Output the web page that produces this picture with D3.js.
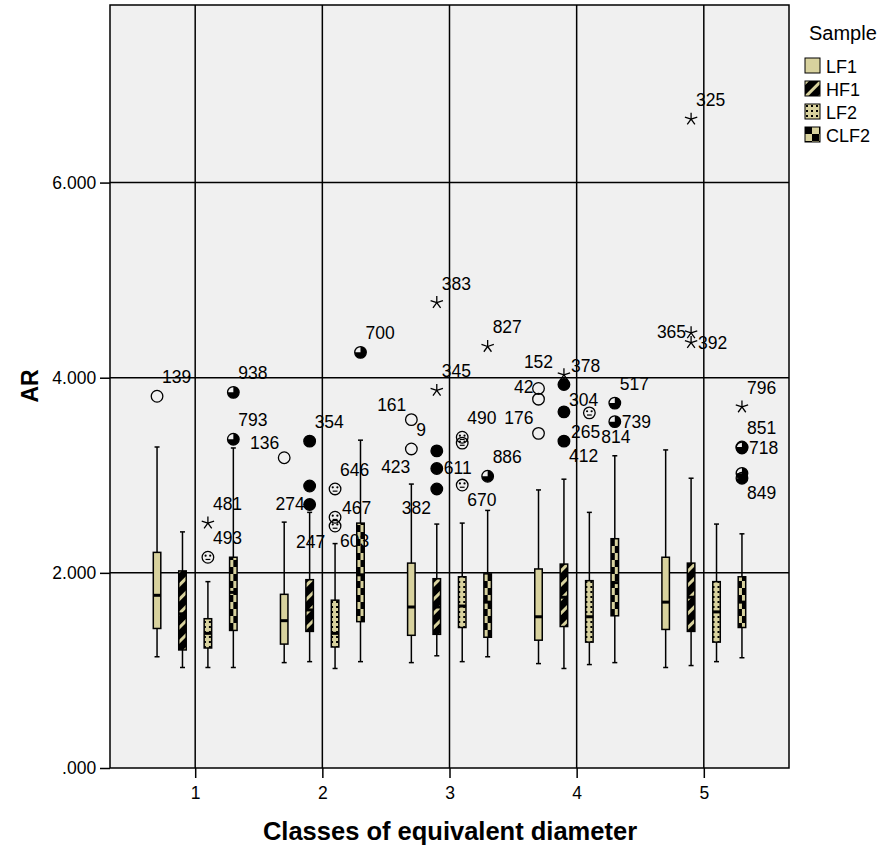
<!DOCTYPE html>
<html>
<head>
<meta charset="utf-8">
<script src="https://cdn.jsdelivr.net/npm/d3@7"></script>
<style>
  body { margin: 0; background: #fff; }
  text { font-family: "Liberation Sans", Arial, sans-serif; }
</style>
</head>
<body>
<script>
// categories
const classes = [1, 2, 3, 4, 5];
const samples = ["LF1", "HF1", "LF2", "CLF2"];
const yTicks = [0, 2, 4, 6];

// box stats per class: [min, q1, median, q3, max]
const lf1Stats = [
  [1.14, 1.43, 1.77, 2.21, 3.29],
  [1.08, 1.27, 1.51, 1.78, 2.52],
  [1.08, 1.36, 1.65, 2.10, 2.91],
  [1.07, 1.31, 1.55, 2.04, 2.85],
  [1.03, 1.42, 1.70, 2.16, 3.26]
];
const hf1Stats = [
  [1.03, 1.21, 1.58, 2.02, 2.42],
  [1.09, 1.40, 1.62, 1.93, 2.62],
  [1.15, 1.37, 1.65, 1.94, 2.50],
  [1.02, 1.45, 1.75, 2.09, 2.96],
  [1.05, 1.40, 1.75, 2.10, 2.97]
];
const lf2Stats = [
  [1.03, 1.23, 1.38, 1.53, 1.91],
  [1.02, 1.24, 1.38, 1.72, 2.30],
  [1.09, 1.44, 1.66, 1.96, 2.51],
  [1.06, 1.29, 1.55, 1.92, 2.62],
  [1.09, 1.29, 1.60, 1.91, 2.50]
];
const clf2Stats = [
  [1.03, 1.41, 1.80, 2.16, 3.28],
  [1.09, 1.50, 1.98, 2.51, 3.36],
  [1.14, 1.34, 1.70, 1.99, 2.64],
  [1.08, 1.56, 1.90, 2.35, 3.20],
  [1.13, 1.44, 1.70, 1.96, 2.40]
];

// outliers: [class, sample, value, kind]  ("o" = outlier, "*" = extreme)
const outliers = [
  [1, "LF1", 3.81, "o"], [1, "LF2", 2.51, "*"], [1, "LF2", 2.16, "o"],
  [1, "CLF2", 3.85, "o"], [1, "CLF2", 3.37, "o"],
  [2, "LF1", 3.18, "o"], [2, "HF1", 3.35, "o"], [2, "HF1", 2.89, "o"], [2, "HF1", 2.70, "o"],
  [2, "LF2", 2.86, "o"], [2, "LF2", 2.57, "o"], [2, "LF2", 2.48, "o"], [2, "CLF2", 4.26, "o"],
  [3, "LF1", 3.57, "o"], [3, "LF1", 3.27, "o"],
  [3, "HF1", 4.77, "*"], [3, "HF1", 3.87, "*"], [3, "HF1", 3.25, "o"], [3, "HF1", 3.07, "o"], [3, "HF1", 2.86, "o"],
  [3, "LF2", 3.39, "o"], [3, "LF2", 3.33, "o"], [3, "LF2", 2.90, "o"],
  [3, "CLF2", 4.32, "*"], [3, "CLF2", 2.99, "o"],
  [4, "LF1", 3.89, "o"], [4, "LF1", 3.78, "o"], [4, "LF1", 3.43, "o"],
  [4, "HF1", 4.03, "*"], [4, "HF1", 3.93, "o"], [4, "HF1", 3.65, "o"], [4, "HF1", 3.35, "o"],
  [4, "LF2", 3.64, "o"], [4, "CLF2", 3.74, "o"], [4, "CLF2", 3.55, "o"],
  [5, "HF1", 6.65, "*"], [5, "HF1", 4.46, "*"], [5, "HF1", 4.36, "*"],
  [5, "CLF2", 3.70, "*"], [5, "CLF2", 3.29, "o"], [5, "CLF2", 3.28, "o"],
  [5, "CLF2", 3.02, "o"], [5, "CLF2", 2.97, "o"]
];

// case labels: [id, class, sample, value, side]
const caseLabels = [
  ["139", 1, "LF1", 3.81, "ne"], ["481", 1, "LF2", 2.51, "ne"], ["493", 1, "LF2", 2.16, "ne"],
  ["938", 1, "CLF2", 3.85, "ne"], ["793", 1, "CLF2", 3.37, "ne"],
  ["136", 2, "LF1", 3.18, "nw"], ["354", 2, "HF1", 3.35, "ne"], ["274", 2, "HF1", 2.70, "w"],
  ["247", 2, "HF1", 2.70, "s"], ["646", 2, "LF2", 2.86, "ne"], ["467", 2, "LF2", 2.57, "en"],
  ["603", 2, "LF2", 2.48, "se"], ["700", 2, "CLF2", 4.26, "ne"],
  ["161", 3, "LF1", 3.57, "nw"], ["9", 3, "LF1", 3.27, "ne"], ["423", 3, "LF1", 3.27, "sw"],
  ["382", 3, "LF1", 3.27, "ss"], ["383", 3, "HF1", 4.77, "ne"], ["345", 3, "HF1", 3.87, "ne"],
  ["611", 3, "HF1", 3.07, "e"], ["490", 3, "LF2", 3.39, "ne"], ["670", 3, "LF2", 2.90, "se"],
  ["827", 3, "CLF2", 4.32, "ne"], ["886", 3, "CLF2", 2.99, "ne"],
  ["42", 4, "LF1", 3.89, "w"], ["152", 4, "LF1", 3.89, "n"], ["176", 4, "LF1", 3.43, "nw"],
  ["378", 4, "HF1", 4.03, "en"], ["304", 4, "HF1", 3.93, "se"], ["265", 4, "HF1", 3.35, "en"],
  ["412", 4, "HF1", 3.35, "se"], ["814", 4, "LF2", 3.64, "sf"],
  ["517", 4, "CLF2", 3.74, "ne"], ["739", 4, "CLF2", 3.55, "e"],
  ["325", 5, "HF1", 6.65, "ne"], ["365", 5, "HF1", 4.46, "w"], ["392", 5, "HF1", 4.36, "e"],
  ["796", 5, "CLF2", 3.70, "ne"], ["851", 5, "CLF2", 3.29, "ne"], ["718", 5, "CLF2", 3.28, "e"],
  ["849", 5, "CLF2", 2.97, "se"]
];

const stats = {LF1: lf1Stats, HF1: hf1Stats, LF2: lf2Stats, CLF2: clf2Stats};
const khaki = "#d8d29e";

const plot = {left: 110, top: 5, right: 789, bottom: 768};

const svg = d3.select("body").append("svg")
  .attr("width", 880)
  .attr("height", 849);

// fill patterns
const defs = svg.append("defs");
defs.append("pattern").attr("id", "p-LF1")
  .attr("patternUnits", "userSpaceOnUse").attr("width", 4).attr("height", 4)
  .append("rect").attr("width", 4).attr("height", 4).attr("fill", khaki);

const hf1 = defs.append("pattern").attr("id", "p-HF1")
  .attr("patternUnits", "userSpaceOnUse").attr("width", 10).attr("height", 10)
  .attr("patternTransform", "rotate(45)");
hf1.append("rect").attr("width", 10).attr("height", 10).attr("fill", "#000");
hf1.append("rect").attr("width", 3).attr("height", 10).attr("fill", khaki);

const lf2 = defs.append("pattern").attr("id", "p-LF2")
  .attr("patternUnits", "userSpaceOnUse").attr("width", 5).attr("height", 5);
lf2.append("rect").attr("width", 5).attr("height", 5).attr("fill", khaki);
lf2.append("rect").attr("x", 1).attr("y", 1).attr("width", 2).attr("height", 2).attr("fill", "#000");

const clf2 = defs.append("pattern").attr("id", "p-CLF2")
  .attr("patternUnits", "userSpaceOnUse").attr("width", 14).attr("height", 14);
clf2.append("rect").attr("width", 14).attr("height", 14).attr("fill", khaki);
clf2.append("rect").attr("width", 7).attr("height", 7).attr("fill", "#000");
clf2.append("rect").attr("x", 7).attr("y", 7).attr("width", 7).attr("height", 7).attr("fill", "#000");

// scales
const x = d3.scaleLinear().domain([0.33, 5.67]).range([plot.left, plot.right]);
const y = d3.scaleLinear().domain([0, 7.82]).range([plot.bottom, plot.top]);
const offset = d3.scalePoint().domain(samples).range([-0.3, 0.3]);
const px = (c, s) => x(c + offset(s));

svg.append("rect")
  .attr("x", plot.left).attr("y", plot.top)
  .attr("width", plot.right - plot.left).attr("height", plot.bottom - plot.top)
  .attr("fill", "#f0f0f0");

// grid
svg.append("g").selectAll("line")
  .data(yTicks.filter(d => d > 0))
  .join("line")
  .attr("x1", plot.left).attr("x2", plot.right)
  .attr("y1", d => y(d)).attr("y2", d => y(d))
  .attr("stroke", "#000").attr("stroke-width", 1.5);

svg.append("g").selectAll("line")
  .data(classes)
  .join("line")
  .attr("x1", d => x(d)).attr("x2", d => x(d))
  .attr("y1", plot.top).attr("y2", plot.bottom)
  .attr("stroke", "#000").attr("stroke-width", 1.5);

svg.append("rect")
  .attr("x", plot.left).attr("y", plot.top)
  .attr("width", plot.right - plot.left).attr("height", plot.bottom - plot.top)
  .attr("fill", "none").attr("stroke", "#000").attr("stroke-width", 1.5);

// axes
const fmt = d => d3.format(".3f")(d).replace(/^0/, "");
const yAxis = svg.append("g")
  .attr("transform", `translate(${plot.left},0)`)
  .call(d3.axisLeft(y).tickValues(yTicks).tickFormat(fmt).tickSize(10).tickSizeOuter(0));
const xAxis = svg.append("g")
  .attr("transform", `translate(0,${plot.bottom})`)
  .call(d3.axisBottom(x).tickValues(classes).tickFormat(d3.format("d")).tickSize(10).tickSizeOuter(0));
[yAxis, xAxis].forEach(a => {
  a.select(".domain").remove();
  a.selectAll(".tick line").attr("stroke", "#000").attr("stroke-width", 1.5);
  a.selectAll(".tick text").attr("font-size", 17.5).attr("fill", "#000")
   .attr("font-family", "Liberation Sans, Arial, sans-serif");
});
yAxis.selectAll(".tick text").attr("dx", "-0.05em");
xAxis.selectAll(".tick text").attr("dy", "1em");

svg.append("text")
  .attr("x", 450).attr("y", 840)
  .attr("text-anchor", "middle")
  .attr("font-size", 25.5).attr("font-weight", "bold")
  .text("Classes of equivalent diameter");

svg.append("text")
  .attr("transform", "translate(38,386) rotate(-90)")
  .attr("text-anchor", "middle")
  .attr("font-size", 23).attr("font-weight", "bold")
  .text("AR");

// boxes
const boxW = 7.5;
const boxes = [];
samples.forEach(s => classes.forEach((c, i) => {
  const [min, q1, med, q3, max] = stats[s][i];
  boxes.push({c, s, min, q1, med, q3, max});
}));

const bg = svg.append("g").selectAll("g").data(boxes).join("g")
  .attr("transform", d => `translate(${px(d.c, d.s)},0)`);

bg.append("line")
  .attr("y1", d => y(d.max)).attr("y2", d => y(d.min))
  .attr("stroke", "#000").attr("stroke-width", 1.5);
bg.selectAll(".cap").data(d => [d.min, d.max]).join("line")
  .attr("class", "cap")
  .attr("x1", -2.5).attr("x2", 2.5)
  .attr("y1", v => y(v)).attr("y2", v => y(v))
  .attr("stroke", "#000").attr("stroke-width", 1.5);
bg.append("rect")
  .attr("x", -boxW / 2).attr("width", boxW)
  .attr("y", d => y(d.q3)).attr("height", d => y(d.q1) - y(d.q3))
  .attr("fill", d => `url(#p-${d.s})`)
  .attr("stroke", "#000").attr("stroke-width", 1.5);
bg.append("line")
  .attr("x1", -boxW / 2).attr("x2", boxW / 2)
  .attr("y1", d => y(d.med)).attr("y2", d => y(d.med))
  .attr("stroke", "#000").attr("stroke-width", 3);

// outlier markers
const pts = outliers.map(([c, s, v, k]) => ({c, s, v, k}));
const starPath = d3.range(5).map(k => {
  const a = (-90 + 72 * k) * Math.PI / 180;
  return `M0,0L${(6.5 * Math.cos(a)).toFixed(2)},${(6.5 * Math.sin(a)).toFixed(2)}`;
}).join("");

svg.append("g").selectAll("path")
  .data(pts.filter(d => d.k === "*"))
  .join("path")
  .attr("transform", d => `translate(${px(d.c, d.s)},${y(d.v)})`)
  .attr("d", starPath)
  .attr("stroke", "#000").attr("stroke-width", 1.3).attr("fill", "none");

const r = 5.8;
const quarter = d3.arc().innerRadius(0).outerRadius(r);
const mg = svg.append("g").selectAll("g")
  .data(pts.filter(d => d.k === "o"))
  .join("g")
  .attr("transform", d => `translate(${px(d.c, d.s)},${y(d.v)})`);

// CLF2: three quarters filled, top-left left open
mg.filter(d => d.s === "CLF2").append("path")
  .attr("d", quarter({startAngle: 0, endAngle: 1.5 * Math.PI}))
  .attr("fill", "#000");
mg.filter(d => d.s === "LF2").each(function () {
  const g = d3.select(this);
  [[-2.3, -1.6], [2.3, -1.6]].forEach(([dx, dy]) =>
    g.append("circle").attr("cx", dx).attr("cy", dy).attr("r", 1.1).attr("fill", "#000"));
  g.append("line").attr("x1", -2.4).attr("x2", 2.4).attr("y1", 2.2).attr("y2", 2.2)
   .attr("stroke", "#000").attr("stroke-width", 1.2);
});
mg.append("circle")
  .attr("r", r)
  .attr("fill", d => d.s === "HF1" ? "#000" : "none")
  .attr("stroke", "#000").attr("stroke-width", 1.3);

// case labels
const side = {
  ne: [5, -13, "start"], e: [7, 6, "start"], en: [7, -3, "start"], se: [5, 21, "start"],
  sf: [12, 30, "start"], nw: [-5, -9, "end"], w: [-5, 5, "end"], sw: [-1, 24, "end"],
  n: [0, -20, "middle"], s: [1, 43, "middle"], ss: [5, 65, "middle"]
};
svg.append("g").selectAll("text")
  .data(caseLabels)
  .join("text")
  .attr("x", d => px(d[1], d[2]) + side[d[4]][0])
  .attr("y", d => y(d[3]) + side[d[4]][1])
  .attr("text-anchor", d => side[d[4]][2])
  .attr("font-size", 17.5)
  .text(d => d[0]);

// legend
const legend = svg.append("g").attr("transform", "translate(805,0)");
legend.append("text").attr("x", 4).attr("y", 40).attr("font-size", 20).text("Sample");
const li = legend.selectAll(".item").data(samples).join("g")
  .attr("class", "item")
  .attr("transform", (d, i) => `translate(0,${58 + i * 23})`);
li.append("rect")
  .attr("width", 15).attr("height", 15)
  .attr("fill", d => `url(#p-${d})`)
  .attr("stroke", "#000").attr("stroke-width", 1);
li.append("text").attr("x", 21).attr("y", 14.5).attr("font-size", 18).text(d => d);
</script>
</body>
</html>
